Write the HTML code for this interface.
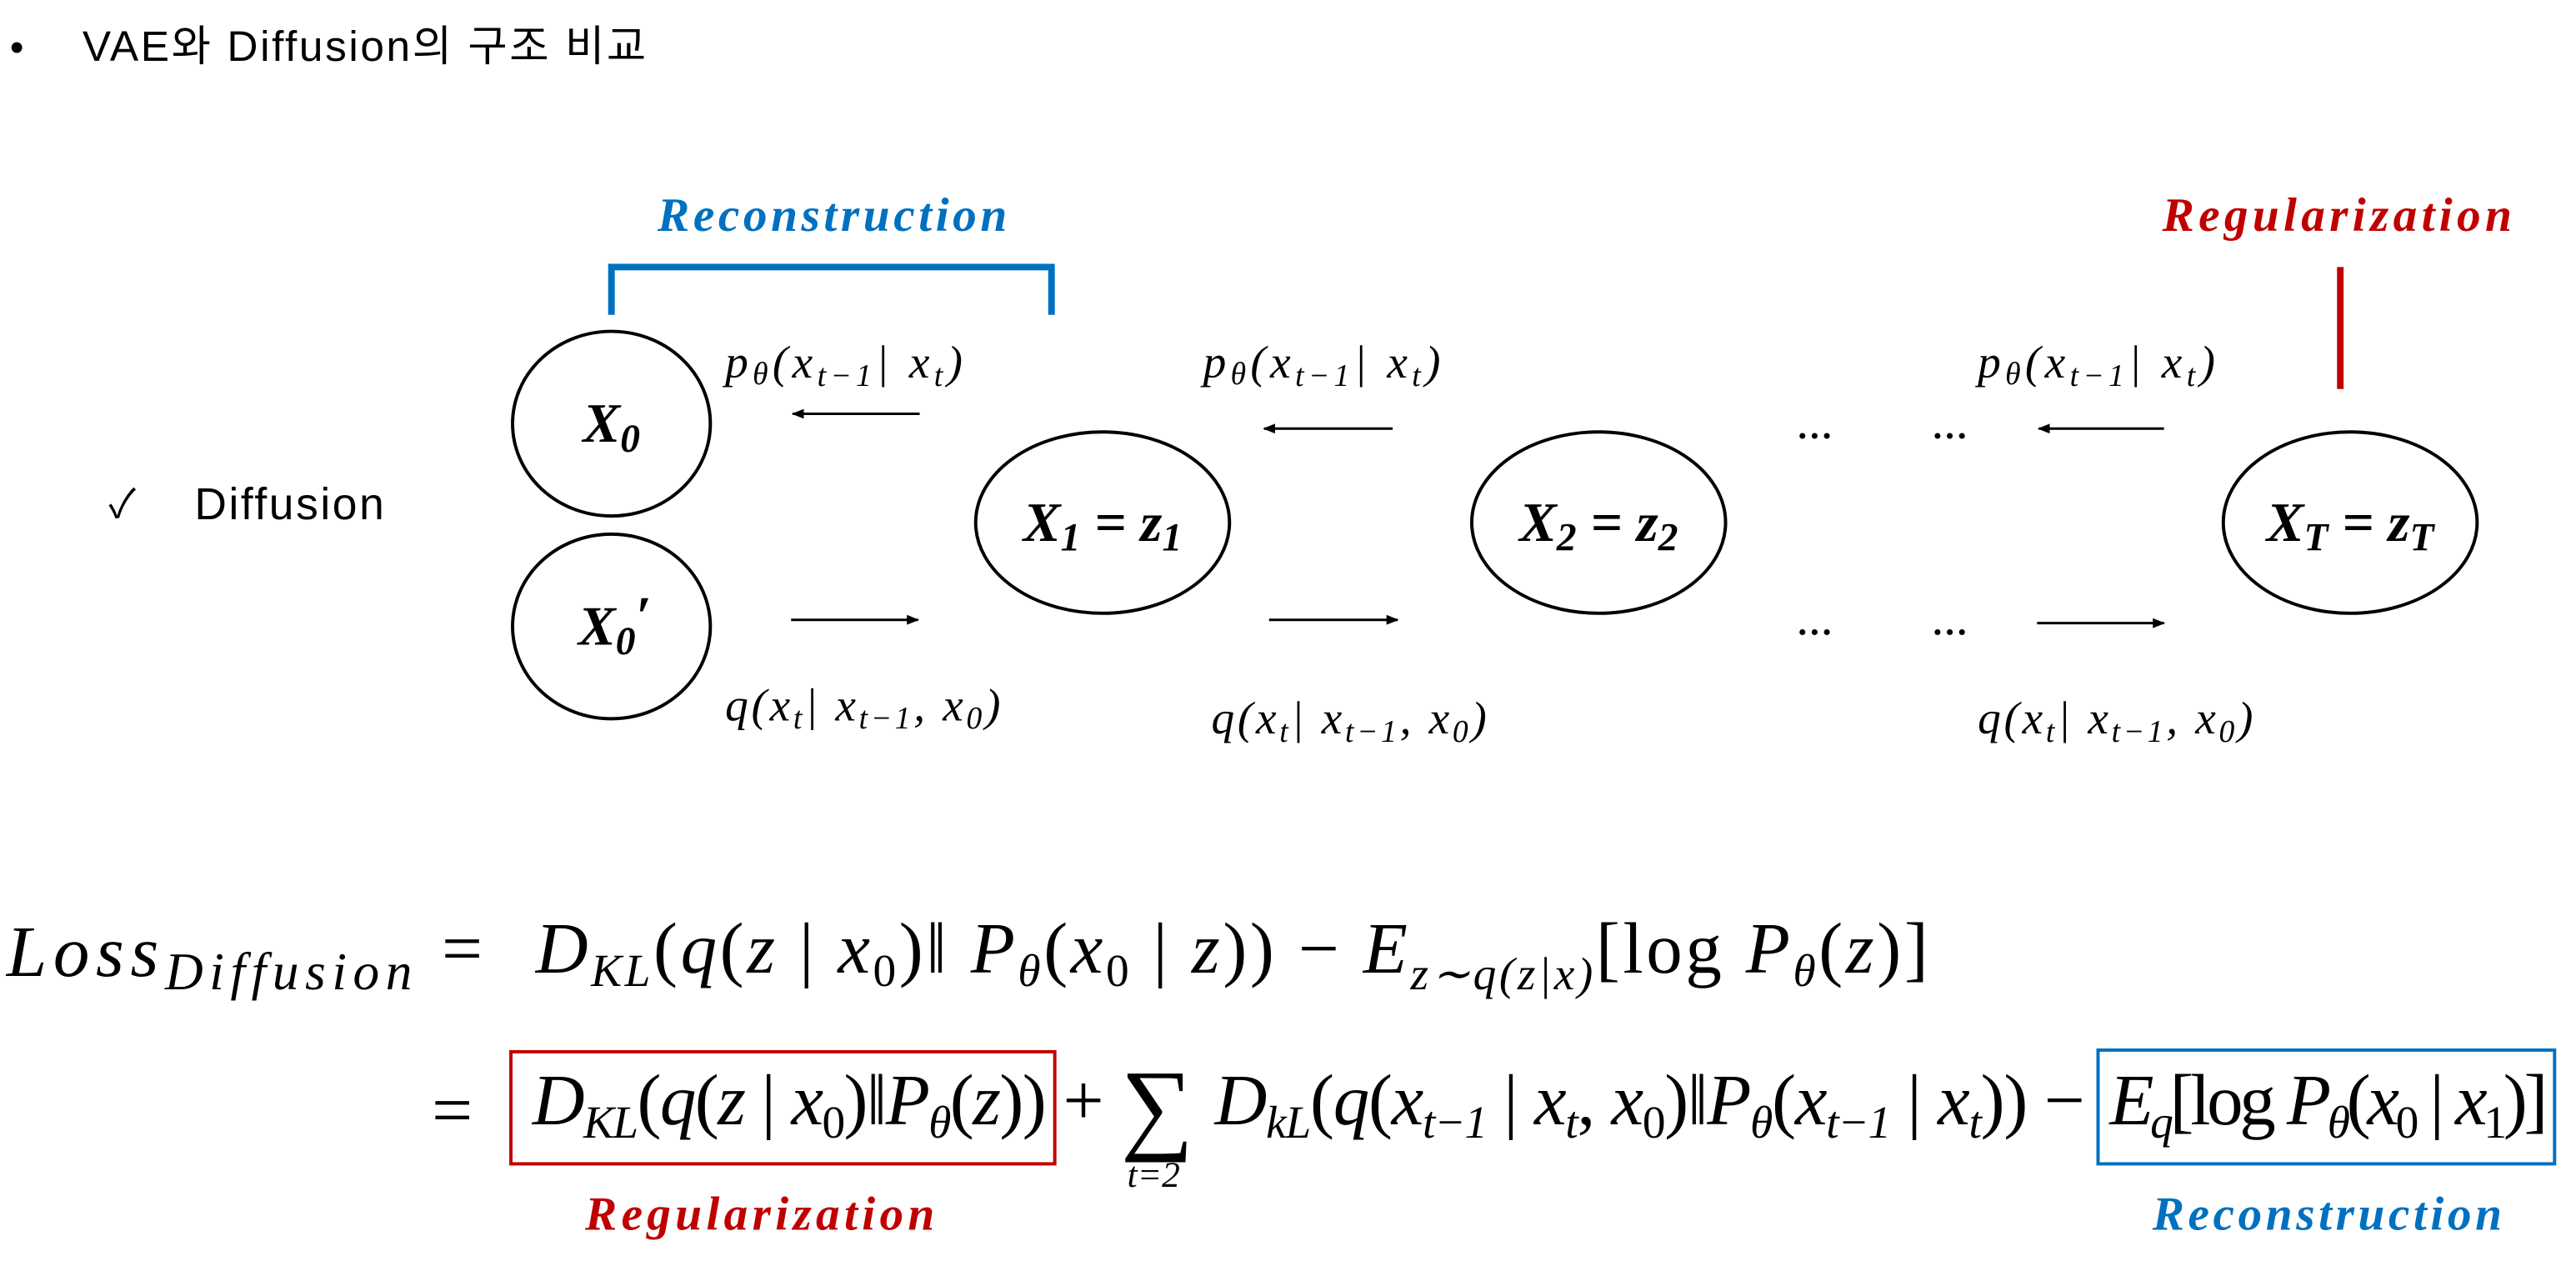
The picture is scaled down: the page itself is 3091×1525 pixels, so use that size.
<!DOCTYPE html>
<html><head><meta charset="utf-8"><style>
html,body{margin:0;padding:0;background:#fff;width:3091px;height:1525px;overflow:hidden}
svg{display:block}
.s{font-family:"Liberation Serif",serif}
.k{font-family:"Liberation Sans","Noto Sans CJK KR",sans-serif}
</style></head><body>
<svg width="3091" height="1525" viewBox="0 0 1563 771" preserveAspectRatio="none" xmlns="http://www.w3.org/2000/svg">
<defs><marker id="ah" viewBox="0 0 10 10" refX="9" refY="5" markerWidth="5" markerHeight="5" orient="auto"><path d="M0,1 L10,5 L0,9 z" fill="#000"/></marker></defs>

<text class="k" x="6" y="37" font-size="24">•</text>
<text class="k" x="50" y="37" font-size="26" textLength="342">VAE와 Diffusion의 구조 비교</text>
<text class="k" x="66" y="314" font-size="24">✓</text>
<text class="k" x="118" y="315" font-size="27" textLength="115">Diffusion</text>

<text class="s" x="505" y="140" font-size="29" font-weight="bold" font-style="italic" fill="#0070C0" text-anchor="middle" textLength="212">Reconstruction</text>
<path d="M371,191 L371,162 L638,162 L638,191" fill="none" stroke="#0070C0" stroke-width="4"/>
<text class="s" x="1418" y="140" font-size="29" font-weight="bold" font-style="italic" fill="#C00000" text-anchor="middle" textLength="212">Regularization</text>
<line x1="1420" y1="162" x2="1420" y2="236" stroke="#C00000" stroke-width="4"/>

<g fill="none" stroke="#000" stroke-width="2">
<ellipse cx="371" cy="257" rx="60" ry="56"/>
<ellipse cx="371" cy="380" rx="60" ry="56"/>
<ellipse cx="669" cy="317" rx="77" ry="55"/>
<ellipse cx="970" cy="317" rx="77" ry="55"/>
<ellipse cx="1426" cy="317" rx="77" ry="55"/>
</g>
<g class="s" font-weight="bold" font-style="italic" font-size="34" text-anchor="middle">
<text x="371" y="268">X<tspan font-size="24" dy="6">0</tspan></text>
<text x="373" y="391">X<tspan font-size="24" dy="6">0</tspan><tspan dy="-12">′</tspan></text>
<text x="669" y="328">X<tspan font-size="24" dy="6">1</tspan><tspan dy="-6"> = z</tspan><tspan font-size="24" dy="6">1</tspan></text>
<text x="970" y="328">X<tspan font-size="24" dy="6">2</tspan><tspan dy="-6"> = z</tspan><tspan font-size="24" dy="6">2</tspan></text>
<text x="1426" y="328">X<tspan font-size="24" dy="6">T</tspan><tspan dy="-6"> = z</tspan><tspan font-size="24" dy="6">T</tspan></text>
</g>

<g stroke="#000" stroke-width="1.5" marker-end="url(#ah)">
<line x1="558" y1="251" x2="481" y2="251"/>
<line x1="845" y1="260" x2="767" y2="260"/>
<line x1="1313" y1="260" x2="1237" y2="260"/>
<line x1="480" y1="376" x2="557" y2="376"/>
<line x1="770" y1="376" x2="848" y2="376"/>
<line x1="1236" y1="378" x2="1313" y2="378"/>
</g>

<g class="s" font-style="italic" font-size="28">
<text x="440" y="229" textLength="144">p<tspan font-size="19" dy="4">θ</tspan><tspan dy="-4">(x</tspan><tspan font-size="19" dy="5">t−1</tspan><tspan dy="-5">| x</tspan><tspan font-size="19" dy="5">t</tspan><tspan dy="-5">)</tspan></text>
<text x="730" y="229" textLength="144">p<tspan font-size="19" dy="4">θ</tspan><tspan dy="-4">(x</tspan><tspan font-size="19" dy="5">t−1</tspan><tspan dy="-5">| x</tspan><tspan font-size="19" dy="5">t</tspan><tspan dy="-5">)</tspan></text>
<text x="1200" y="229" textLength="144">p<tspan font-size="19" dy="4">θ</tspan><tspan dy="-4">(x</tspan><tspan font-size="19" dy="5">t−1</tspan><tspan dy="-5">| x</tspan><tspan font-size="19" dy="5">t</tspan><tspan dy="-5">)</tspan></text>
<text x="440" y="437" textLength="167">q(x<tspan font-size="19" dy="5">t</tspan><tspan dy="-5">| x</tspan><tspan font-size="19" dy="5">t−1</tspan><tspan dy="-5">, x</tspan><tspan font-size="19" dy="5">0</tspan><tspan dy="-5">)</tspan></text>
<text x="735" y="445" textLength="167">q(x<tspan font-size="19" dy="5">t</tspan><tspan dy="-5">| x</tspan><tspan font-size="19" dy="5">t−1</tspan><tspan dy="-5">, x</tspan><tspan font-size="19" dy="5">0</tspan><tspan dy="-5">)</tspan></text>
<text x="1200" y="445" textLength="167">q(x<tspan font-size="19" dy="5">t</tspan><tspan dy="-5">| x</tspan><tspan font-size="19" dy="5">t−1</tspan><tspan dy="-5">, x</tspan><tspan font-size="19" dy="5">0</tspan><tspan dy="-5">)</tspan></text>
</g>
<g class="s" font-size="22" font-weight="bold">
<text x="1090" y="266">…</text>
<text x="1172" y="266">…</text>
<text x="1090" y="385">…</text>
<text x="1172" y="385">…</text>
</g>

<g class="s" font-size="44">
<text x="4" y="592" font-style="italic" textLength="246">Loss<tspan font-size="32" dy="8">Diffusion</tspan></text>
<text x="268" y="590">=</text>
<text x="325" y="590" textLength="845"><tspan font-style="italic">D</tspan><tspan font-size="28" font-style="italic" dy="8">KL</tspan><tspan dy="-8">(</tspan><tspan font-style="italic">q</tspan>(<tspan font-style="italic">z</tspan> | <tspan font-style="italic">x</tspan><tspan font-size="28" dy="8">0</tspan><tspan dy="-8">)‖ </tspan><tspan font-style="italic">P</tspan><tspan font-size="28" font-style="italic" dy="8">θ</tspan><tspan dy="-8">(</tspan><tspan font-style="italic">x</tspan><tspan font-size="28" dy="8">0</tspan><tspan dy="-8"> | </tspan><tspan font-style="italic">z</tspan>)) − <tspan font-style="italic">E</tspan><tspan font-size="28" font-style="italic" dy="10">z∼q(z|x)</tspan><tspan dy="-10">[log </tspan><tspan font-style="italic">P</tspan><tspan font-size="28" font-style="italic" dy="8">θ</tspan><tspan dy="-8">(</tspan><tspan font-style="italic">z</tspan>)]</text>
<text x="262" y="688">=</text>
<text x="323" y="682" textLength="312"><tspan font-style="italic">D</tspan><tspan font-size="28" font-style="italic" dy="8">KL</tspan><tspan dy="-8">(</tspan><tspan font-style="italic">q</tspan>(<tspan font-style="italic">z</tspan> | <tspan font-style="italic">x</tspan><tspan font-size="28" dy="8">0</tspan><tspan dy="-8">)‖</tspan><tspan font-style="italic">P</tspan><tspan font-size="28" font-style="italic" dy="8">θ</tspan><tspan dy="-8">(</tspan><tspan font-style="italic">z</tspan>))</text>
<text x="645" y="682">+</text>
<text x="680" y="692" font-size="62">∑</text>
<text x="684" y="720" font-size="22" font-style="italic">t=2</text>
<text x="737" y="682" textLength="528"><tspan font-style="italic">D</tspan><tspan font-size="28" font-style="italic" dy="8">kL</tspan><tspan dy="-8">(</tspan><tspan font-style="italic">q</tspan>(<tspan font-style="italic">x</tspan><tspan font-size="28" font-style="italic" dy="8">t−1</tspan><tspan dy="-8"> | </tspan><tspan font-style="italic">x</tspan><tspan font-size="28" font-style="italic" dy="8">t</tspan><tspan dy="-8">, </tspan><tspan font-style="italic">x</tspan><tspan font-size="28" dy="8">0</tspan><tspan dy="-8">)‖</tspan><tspan font-style="italic">P</tspan><tspan font-size="28" font-style="italic" dy="8">θ</tspan><tspan dy="-8">(</tspan><tspan font-style="italic">x</tspan><tspan font-size="28" font-style="italic" dy="8">t−1</tspan><tspan dy="-8"> | </tspan><tspan font-style="italic">x</tspan><tspan font-size="28" font-style="italic" dy="8">t</tspan><tspan dy="-8">)) −</tspan></text>
<text x="1280" y="682" textLength="266"><tspan font-style="italic">E</tspan><tspan font-size="28" font-style="italic" dy="8">q</tspan><tspan dy="-8">[log </tspan><tspan font-style="italic">P</tspan><tspan font-size="28" font-style="italic" dy="8">θ</tspan><tspan dy="-8">(</tspan><tspan font-style="italic">x</tspan><tspan font-size="28" dy="8">0</tspan><tspan dy="-8"> | </tspan><tspan font-style="italic">x</tspan><tspan font-size="28" dy="8">1</tspan><tspan dy="-8">)]</tspan></text>
</g>
<rect x="310" y="638" width="330" height="68" fill="none" stroke="#C00000" stroke-width="2"/>
<rect x="1273" y="637" width="277" height="69" fill="none" stroke="#0070C0" stroke-width="2"/>
<text class="s" x="461" y="746" font-size="29" font-weight="bold" font-style="italic" fill="#C00000" text-anchor="middle" textLength="212">Regularization</text>
<text class="s" x="1412" y="746" font-size="29" font-weight="bold" font-style="italic" fill="#0070C0" text-anchor="middle" textLength="212">Reconstruction</text>
</svg>
</body></html>
